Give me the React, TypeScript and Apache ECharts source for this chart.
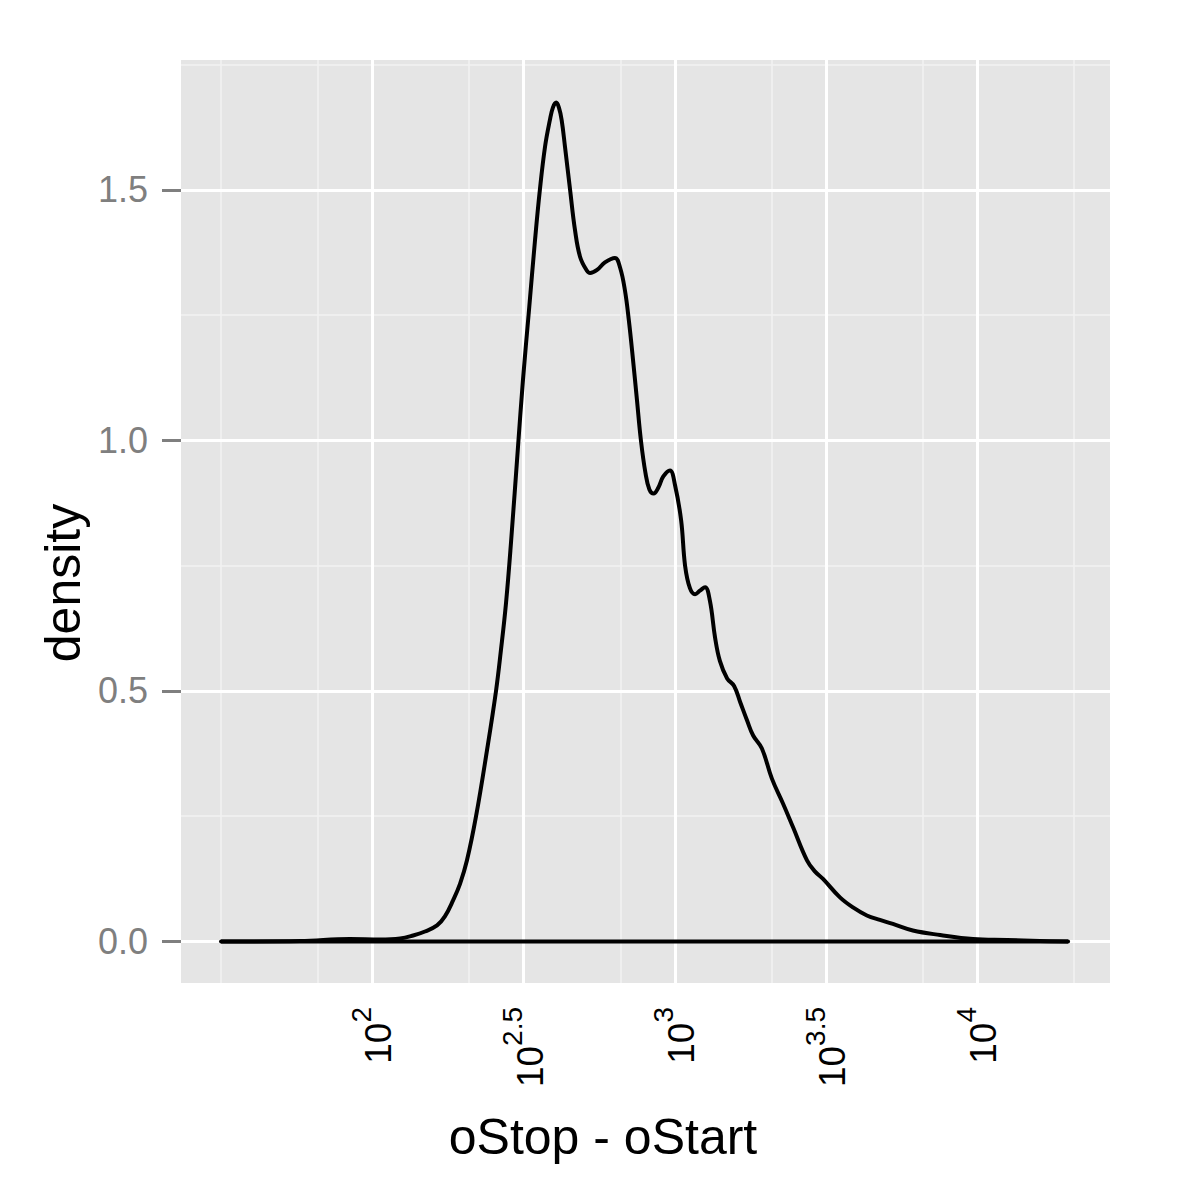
import React, { useEffect, useRef } from 'react';
import * as echarts from 'echarts';

// x values are log10(oStop - oStart)
const logLength = [
  1.500, 1.761, 1.926, 2.025, 2.092, 2.135, 2.174, 2.214, 2.240, 2.267,
  2.290, 2.313, 2.343, 2.379, 2.409, 2.425, 2.442, 2.459, 2.482, 2.498,
  2.518, 2.538, 2.554, 2.571, 2.587, 2.597, 2.608, 2.617, 2.626, 2.637,
  2.654, 2.670, 2.687, 2.709, 2.720, 2.743, 2.769, 2.802, 2.819, 2.835,
  2.848, 2.862, 2.875, 2.888, 2.903, 2.916, 2.930, 2.945, 2.962, 2.984,
  3.001, 3.021, 3.034, 3.050, 3.067, 3.083, 3.100, 3.116, 3.133, 3.149,
  3.173, 3.196, 3.216, 3.239, 3.259, 3.288, 3.321, 3.358, 3.391, 3.437,
  3.463, 3.490, 3.546, 3.589, 3.635, 3.678, 3.721, 3.787, 3.877, 3.986,
  4.098, 4.207, 4.300,
];
const density = [
  0.000, 0.001, 0.005, 0.004, 0.006, 0.012, 0.020, 0.032, 0.050, 0.082,
  0.115, 0.162, 0.250, 0.381, 0.500, 0.580, 0.675, 0.800, 0.990, 1.120,
  1.260, 1.400, 1.500, 1.586, 1.639, 1.664, 1.674, 1.664, 1.639, 1.586,
  1.499, 1.420, 1.366, 1.339, 1.334, 1.340, 1.355, 1.364, 1.345, 1.300,
  1.240, 1.160, 1.080, 1.000, 0.935, 0.902, 0.894, 0.905, 0.928, 0.940,
  0.910, 0.840, 0.750, 0.705, 0.693, 0.700, 0.707, 0.680, 0.607, 0.560,
  0.525, 0.510, 0.478, 0.441, 0.411, 0.385, 0.325, 0.275, 0.228, 0.162,
  0.140, 0.125, 0.088, 0.068, 0.052, 0.043, 0.035, 0.022, 0.013, 0.005,
  0.003, 0.001, 0.000,
];

const xMajorBreaks = [2, 2.5, 3, 3.5, 4];
const xTickExponents = ['2', '2.5', '3', '3.5', '4'];
const xMinorBreaks = [1.5, 1.818, 2.318, 2.818, 3.318, 3.818, 4.318];
const yMajorBreaks = [0, 0.5, 1, 1.5];
const yTickLabels = ['0.0', '0.5', '1.0', '1.5'];
const yMinorBreaks = [0.25, 0.75, 1.25, 1.75];
const xTitle = 'oStop - oStart';
const yTitle = 'density';

const FONT = '"Liberation Sans", Arial, Helvetica, sans-serif';

export default function App() {
  const ref = useRef<HTMLDivElement>(null);

  useEffect(() => {
    document.body.style.margin = '0';
    const chart = echarts.init(ref.current as HTMLDivElement, null, { renderer: 'svg' });
    const curve = logLength.map((x, i) => [x, density[i]]);
    const baseline = [
      [logLength[0], 0],
      [logLength[logLength.length - 1], 0],
    ];
    const minorStyle = { color: '#f2f2f2', width: 1.5, type: 'solid' };
    const majorStyle = { color: '#ffffff', width: 3, type: 'solid' };
    const gridLines = [
      ...xMinorBreaks.map((v) => ({ xAxis: v, lineStyle: minorStyle })),
      ...yMinorBreaks.map((v) => ({ yAxis: v, lineStyle: minorStyle })),
      ...xMajorBreaks.map((v) => ({ xAxis: v, lineStyle: majorStyle })),
      ...yMajorBreaks.map((v) => ({ yAxis: v, lineStyle: majorStyle })),
    ];
    const findIdx = (arr: number[], v: number) =>
      arr.findIndex((a) => Math.abs(a - v) < 1e-6);

    chart.setOption({
      animation: false,
      backgroundColor: '#ffffff',
      tooltip: { show: false },
      grid: {
        left: 181,
        top: 60,
        right: 90,
        bottom: 217,
        show: true,
        backgroundColor: '#e5e5e5',
        borderWidth: 0,
      },
      xAxis: {
        type: 'value',
        min: 1.3676,
        max: 4.4387,
        axisLine: { show: false },
        splitLine: { show: false },
        minorSplitLine: { show: false },
        axisTick: {
          show: true,
          length: 19,
          customValues: xMajorBreaks,
          lineStyle: { color: '#7f7f7f', width: 3 },
        },
        axisLabel: {
          customValues: xMajorBreaks,
          rotate: 90,
          margin: 24,
          formatter: (v: number) => {
            const i = findIdx(xMajorBreaks, v);
            return i < 0 ? '' : `{b|10}{s|${xTickExponents[i]}}`;
          },
          rich: {
            b: {
              fontSize: 37,
              fontFamily: FONT,
              color: '#000000',
              lineHeight: 50,
              verticalAlign: 'bottom',
            },
            s: {
              fontSize: 28,
              fontFamily: FONT,
              color: '#000000',
              lineHeight: 28,
              verticalAlign: 'top',
            },
          },
        },
      },
      yAxis: {
        type: 'value',
        min: -0.0828,
        max: 1.759,
        axisLine: { show: false },
        splitLine: { show: false },
        minorSplitLine: { show: false },
        axisTick: {
          show: true,
          length: 19,
          customValues: yMajorBreaks,
          lineStyle: { color: '#7f7f7f', width: 3 },
        },
        axisLabel: {
          customValues: yMajorBreaks,
          margin: 33,
          color: '#7f7f7f',
          fontSize: 36,
          fontFamily: FONT,
          formatter: (v: number) => {
            const i = findIdx(yMajorBreaks, v);
            return i < 0 ? '' : yTickLabels[i];
          },
        },
      },
      graphic: [
        {
          type: 'text',
          x: 603,
          y: 1137,
          silent: true,
          style: {
            text: xTitle,
            fontSize: 50,
            fontFamily: FONT,
            fill: '#000000',
            align: 'center',
            verticalAlign: 'middle',
          },
        },
        {
          type: 'text',
          x: 63,
          y: 583,
          rotation: Math.PI / 2,
          silent: true,
          style: {
            text: yTitle,
            fontSize: 50,
            fontFamily: FONT,
            fill: '#000000',
            align: 'center',
            verticalAlign: 'middle',
          },
        },
      ],
      series: [
        {
          name: 'grid',
          type: 'line',
          data: [],
          z: 1,
          silent: true,
          markLine: {
            z: 1,
            silent: true,
            symbol: ['none', 'none'],
            label: { show: false },
            emphasis: { disabled: true },
            animation: false,
            data: gridLines,
          },
        },
        {
          name: 'density',
          type: 'line',
          data: curve,
          z: 10,
          silent: true,
          showSymbol: false,
          smooth: 0.4,
          lineStyle: { color: '#000000', width: 4, cap: 'butt', join: 'round' },
          emphasis: { disabled: true },
        },
        {
          name: 'baseline',
          type: 'line',
          data: baseline,
          z: 10,
          silent: true,
          showSymbol: false,
          lineStyle: { color: '#000000', width: 4, cap: 'round' },
          emphasis: { disabled: true },
        },
      ],
    });
    return () => chart.dispose();
  }, []);

  return <div ref={ref} style={{ width: 1200, height: 1200 }} />;
}
